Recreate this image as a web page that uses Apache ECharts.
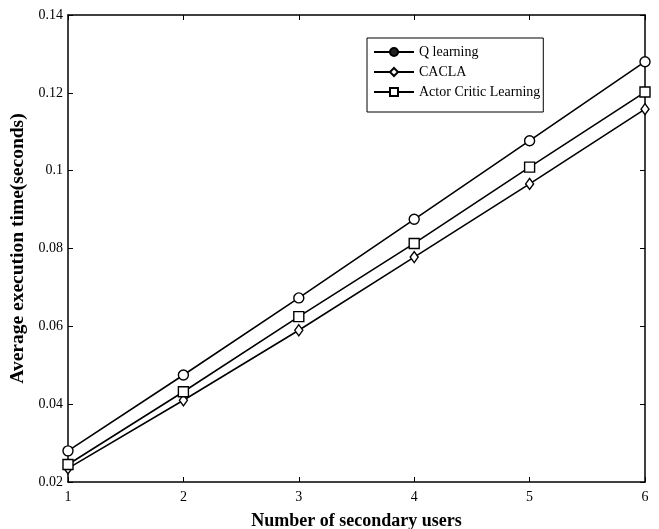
<!DOCTYPE html>
<html><head><meta charset="utf-8">
<script src="https://cdn.jsdelivr.net/npm/echarts@6/dist/echarts.min.js"></script>
<style>html,body{margin:0;padding:0;background:#fff}#c{width:659px;height:529px}</style>
</head><body><div id="c"></div>
<script>
const users = [1, 2, 3, 4, 5, 6];
const qLearning = [0.0280, 0.0475, 0.0673, 0.0875, 0.1077, 0.1280];
const cacla = [0.0235, 0.0410, 0.0590, 0.0778, 0.0966, 0.1158];
const actorCritic = [0.0245, 0.0432, 0.0625, 0.0813, 0.1009, 0.1202];
const seriesNames = ['Q learning', 'CACLA', 'Actor Critic Learning'];
const yTickLabels = ['0.02','0.04','0.06','0.08','0.1','0.12','0.14'];

const font = 'Liberation Serif';
const chart = echarts.init(document.getElementById('c'));
function pairs(v){ return users.map((u,i)=>[u, v[i]]); }
const lineStyle = {color:'#000', width:1.6};
function mk(name, data, symbol, size){
  return {name, type:'line', data:pairs(data), symbol, symbolSize:size, showSymbol:true,
    lineStyle, itemStyle:{color:'#fff', borderColor:'#000', borderWidth:1.4}, animation:false, z:3};
}
const tickIn = {show:true, inside:true, length:5, lineStyle:{color:'#000', width:1}};
chart.setOption({
  animation:false,
  backgroundColor:'#fff',
  grid:{left:68, top:15, right:14, bottom:47, containLabel:false, outerBoundsMode:'none'},
  legend:{
    orient:'vertical', left:367, top:38,
    data:[
      {name:seriesNames[0], itemStyle:{color:'#222'}},
      {name:seriesNames[1]},
      {name:seriesNames[2]}
    ],
    itemWidth:40, itemHeight:10, itemGap:6,
    borderColor:'#000', borderWidth:1, padding:[7,3,13,6],
    textStyle:{fontFamily:font, fontSize:14, color:'#000'},
    backgroundColor:'#fff'
  },
  xAxis:[{
    type:'value', min:1, max:6, interval:1,
    name:'Number of secondary users', nameLocation:'middle', nameGap:30,
    nameTextStyle:{fontFamily:font, fontSize:18, fontWeight:'bold', color:'#000'},
    axisLine:{show:true, lineStyle:{color:'#000', width:1.5}},
    axisTick:tickIn, splitLine:{show:false},
    axisLabel:{fontFamily:font, fontSize:14, color:'#000', margin:8}
  },{
    type:'value', position:'top', min:1, max:6, interval:1,
    axisLine:{show:true, lineStyle:{color:'#000', width:1.5}},
    axisTick:tickIn, axisLabel:{show:false}, splitLine:{show:false}
  }],
  yAxis:[{
    type:'value', min:0.02, max:0.14, interval:0.02,
    name:'Average execution time(seconds)', nameLocation:'middle', nameGap:38,
    nameTextStyle:{fontFamily:font, fontSize:19.5, fontWeight:'bold', color:'#000'},
    axisLine:{show:true, lineStyle:{color:'#000', width:1.5}},
    axisTick:tickIn, splitLine:{show:false},
    axisLabel:{fontFamily:font, fontSize:14, color:'#000', margin:5,
      formatter:(v)=>{ const i=Math.round((v-0.02)/0.02); return yTickLabels[i]||''; }}
  },{
    type:'value', position:'right', min:0.02, max:0.14, interval:0.02,
    axisLine:{show:true, lineStyle:{color:'#000', width:1.5}},
    axisTick:tickIn, axisLabel:{show:false}, splitLine:{show:false}
  }],
  series:[
    mk(seriesNames[0], qLearning, 'circle', 10),
    mk(seriesNames[1], cacla, 'diamond', [8,11]),
    mk(seriesNames[2], actorCritic, 'rect', 10)
  ]
});
</script></body></html>
